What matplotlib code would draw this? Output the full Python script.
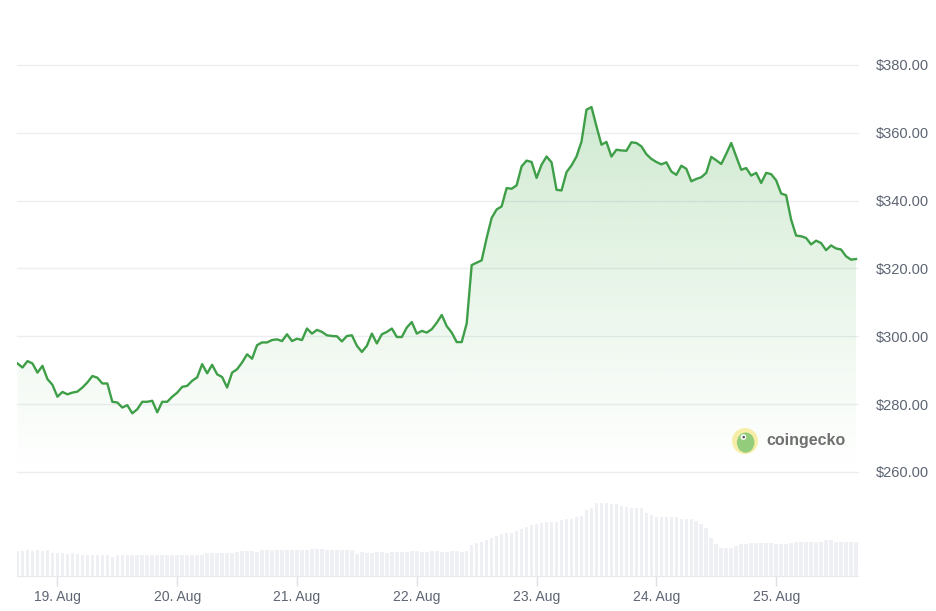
import numpy as np
import matplotlib
matplotlib.use('Agg')
from matplotlib import pyplot as plt
from matplotlib.patches import Circle, Ellipse, Polygon

plt.rcParams['font.family'] = ['Liberation Sans', 'DejaVu Sans']

# hourly prices, 18 Aug 16:00 -> 25 Aug 16:00 (USD)
prices = [292.0, 290.8, 292.7, 292.0, 289.3, 291.3, 287.4, 285.7, 282.2, 283.6, 282.9,
          283.4, 283.7, 284.9, 286.4, 288.3, 287.8, 286.1, 286.1, 280.7, 280.5, 279.0,
          279.7, 277.3, 278.5, 280.7, 280.7, 281.0, 277.6, 280.7, 280.7, 282.2, 283.4,
          285.1, 285.4, 286.9, 287.9, 291.8, 289.1, 291.6, 288.8, 288.0, 284.9, 289.3,
          290.3, 292.3, 294.7, 293.4, 297.4, 298.2, 298.2, 298.9, 299.1, 298.6, 300.6,
          298.6, 299.3, 298.9, 302.3, 300.8, 301.9, 301.3, 300.3, 300.1, 300.0, 298.5,
          300.1, 300.3, 297.2, 295.4, 297.2, 300.8, 297.9, 300.6, 301.3, 302.3, 299.8,
          299.8, 302.6, 304.2, 300.8, 301.6, 301.1, 302.1, 304.0, 306.3, 303.0, 301.1,
          298.3, 298.3, 303.8,
          321.0, 321.7, 322.4, 329.0, 334.9, 337.4, 338.3, 343.7, 343.5, 344.5, 350.1,
          351.8, 351.4, 346.7, 350.6, 353.0, 351.3, 343.2, 343.0, 348.4, 350.4, 353.0,
          357.4, 366.8, 367.6, 361.9, 356.5, 357.3, 353.0, 355.0,
          354.8, 354.7, 357.2, 357.0, 356.0, 353.7, 352.3, 351.4, 350.7, 351.3, 348.6,
          347.6, 350.3, 349.4, 345.7, 346.4, 346.9, 348.2, 352.9, 351.9, 350.8, 353.8,
          357.0, 353.0, 349.1, 349.6, 347.4, 348.2, 345.2, 348.2,
          347.8, 346.0, 342.1, 341.6, 334.4, 329.7, 329.5, 329.0, 327.1, 328.2, 327.5,
          325.4, 326.8, 325.9, 325.6, 323.6, 322.6, 322.8]

# hourly volume bars (relative units)
volume = [25, 25, 26, 25, 26, 25, 26,
          23, 23, 23, 22, 23, 22,
          21, 21, 21, 21, 21, 21,
          19,
          21, 21, 21, 21, 21, 21, 21, 21, 21, 21, 21, 21, 21, 21, 21, 21, 21, 21,
          23, 23, 23, 23, 23, 23,
          24, 25, 25, 25, 24,
          26, 26, 26, 26, 26, 26, 26, 26, 26, 26,
          27, 27, 27,
          26, 26, 26, 26, 26, 26,
          22,
          24, 23, 23, 24, 24, 23, 24, 24, 24, 24,
          25, 25, 24, 24, 25, 25, 24, 24, 25, 25, 24, 25,
          31, 33, 34.5, 36, 38.3, 40, 41.7, 42.7, 43.3, 45, 46.7, 49.3, 50.7, 52.3, 53.3,
          54, 54, 54, 55.7, 56.7, 56.7, 59, 60, 65.7, 68.3, 73.3, 73.3, 73.3, 72.3, 71.7,
          70, 69.3, 68.3, 68.3, 68.3, 63.3, 61, 59, 59, 59, 59, 59, 56.7, 56.7, 56.7,
          55, 51.7, 48.3, 38.3, 31.7, 28.3, 28.3, 28.3, 30, 31.7, 31.7, 32.7, 32.7, 32.7, 32.7,
          32.7, 31.7, 31.7, 31.7, 32.7, 34, 34, 34, 34, 34, 34, 35.7, 35.7, 34.3, 34.3,
          34.3, 34.3, 34.3]

price_ticks = [260, 280, 300, 320, 340, 360, 380]
day_labels = ['19. Aug', '20. Aug', '21. Aug', '22. Aug', '23. Aug', '24. Aug', '25. Aug']

hours = np.arange(-8, -8 + len(prices))  # hours since 19 Aug 00:00

GREEN = '#3f9f48'
LABEL = '#5d6573'
W, H = 936, 611

fig = plt.figure(figsize=(W / 100, H / 100), dpi=100)


def px_axes(x0, y0, x1, y1):
    return fig.add_axes([x0 / W, 1 - y1 / H, (x1 - x0) / W, (y1 - y0) / H])


xlim = (-8.1, 160.4)

# price panel
ax = px_axes(17, 0, 858, 472)
ax.set_xlim(*xlim)
ax.set_ylim(260, 260 + 472 / 3.392)
for v in price_ticks:
    ax.axhline(v, color='#eceef2', lw=1, zorder=1, clip_on=False)

ax.plot(hours, prices, color=GREEN, lw=1.7, zorder=4, solid_joinstyle='round')

verts = np.column_stack([np.r_[hours, hours[::-1]],
                         np.r_[prices, np.full(len(prices), 260.0)]])
clip = Polygon(verts, closed=True, fc='none', ec='none')
ax.add_patch(clip)
grad = np.zeros((256, 1, 4))
grad[..., 0] = 76 / 255
grad[..., 1] = 175 / 255
grad[..., 2] = 80 / 255
grad[:, 0, 3] = np.linspace(0.0, 0.30, 256) ** 1.1
im = ax.imshow(grad, extent=[hours[0], hours[-1], 260, 368], aspect='auto',
               origin='lower', zorder=2)
im.set_clip_path(clip)

ax.yaxis.tick_right()
ax.set_yticks(price_ticks)
ax.set_yticklabels(['$%.2f' % v for v in price_ticks])
ax.tick_params(axis='y', length=0, pad=12.5, labelsize=10.5, labelcolor=LABEL)
ax.set_xticks([])
for s in ax.spines.values():
    s.set_visible(False)

# volume panel
axv = px_axes(17, 476, 858, 576)
axv.bar(hours, volume, width=0.72, color='#eef0f4', zorder=2)
axv.set_xlim(*xlim)
axv.set_ylim(0, 100)
axv.set_yticks([])
axv.set_xticks(np.arange(0, 24 * len(day_labels), 24))
axv.set_xticklabels(day_labels)
axv.tick_params(axis='x', length=7, width=1, color='#dde0e5', labelcolor=LABEL,
                labelsize=10, pad=3)
for s in ['top', 'left', 'right']:
    axv.spines[s].set_visible(False)
axv.spines['bottom'].set_color('#e6e8ec')

# coingecko watermark
lax = px_axes(732, 428, 758, 454)
lax.set_xlim(-1, 1)
lax.set_ylim(-1, 1)
lax.axis('off')
lax.add_patch(Circle((0, 0), 1, fc='#f6eea6', ec='none'))
lax.add_patch(Ellipse((0.05, -0.12), 1.35, 1.55, fc='#93cc7a', ec='none'))
lax.add_patch(Circle((-0.12, 0.3), 0.22, fc='white', ec='none'))
lax.add_patch(Circle((-0.1, 0.3), 0.1, fc='#555555', ec='none'))
fig.text(766 / W, 1 - 441 / H, 'coingecko', fontsize=11.5, fontweight='bold',
         color='#6f6f6f', va='center', ha='left')

fig.savefig('out.png', dpi=100)
